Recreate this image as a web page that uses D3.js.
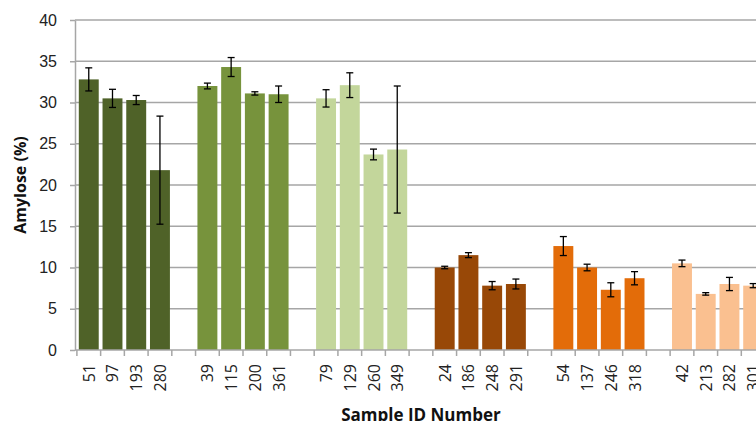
<!DOCTYPE html>
<html lang="en">
  <head>
    <meta charset="UTF-8" />
    <title>Amylose by sample</title>
    <script src="https://d3js.org/d3.v7.min.js"></script>
    <style>
      body { margin: 0; background: #fff; }
      svg { display: block; font-family: "Open Sans", "Noto Sans", sans-serif; }
      .grid line { stroke: #a6a6a6; stroke-width: 1.5px; }
      .axis path, .axis line { stroke: #a6a6a6; stroke-width: 1.5px; }
      .axis text { fill: #222; font-size: 16px; }
      .title { font-weight: bold; font-size: 16px; fill: #111; }
    </style>
  </head>
  <body>
    <svg width="756" height="421"></svg>
    <script>
      // Sample IDs, four per group
      const sampleIds = [
        "51", "97", "193", "280",
        "39", "115", "200", "361",
        "79", "129", "260", "349",
        "24", "186", "248", "291",
        "54", "137", "246", "318",
        "42", "213", "282", "301"
      ];
      const amylose = [
        32.8, 30.5, 30.3, 21.8,
        32.0, 34.3, 31.1, 31.0,
        30.5, 32.1, 23.7, 24.3,
        10.0, 11.5, 7.8, 8.0,
        12.6, 10.0, 7.3, 8.7,
        10.5, 6.8, 8.0, 7.8
      ];
      const errors = [
        1.4, 1.1, 0.55, 6.55,
        0.35, 1.15, 0.2, 1.0,
        1.05, 1.5, 0.65, 7.7,
        0.15, 0.3, 0.5, 0.6,
        1.15, 0.4, 0.85, 0.8,
        0.4, 0.15, 0.8, 0.25
      ];
      const groupColors = ["#4f6228", "#77933c", "#c3d69b", "#984807", "#e36c09", "#fac090"];
      const yTicks = [0, 5, 10, 15, 20, 25, 30, 35, 40];

      // build slot list: 4 bars then an empty slot between groups
      const slots = [];
      const rows = [];
      sampleIds.forEach((id, i) => {
        const g = Math.floor(i / 4);
        if (i > 0 && i % 4 === 0) slots.push("gap" + g);
        slots.push(id);
        rows.push({ id: id, value: amylose[i], err: errors[i], color: groupColors[g] });
      });

      const svg = d3.select("svg");
      const plotLeft = 75, plotTop = 20, plotBottom = 350;
      const step = 23.86;

      const x = d3.scaleBand()
        .domain(slots)
        .range([plotLeft, plotLeft + slots.length * step])
        .padding(0.16);

      const y = d3.scaleLinear().domain([0, 40]).range([plotBottom, plotTop]);

      // gridlines
      svg.append("g")
        .attr("class", "grid")
        .selectAll("line")
        .data(yTicks.slice(1))
        .enter()
        .append("line")
        .attr("x1", plotLeft)
        .attr("x2", 756)
        .attr("y1", (d) => y(d))
        .attr("y2", (d) => y(d));

      // bars
      svg.append("g")
        .selectAll("rect")
        .data(rows)
        .enter()
        .append("rect")
        .attr("x", (d) => x(d.id))
        .attr("y", (d) => y(d.value))
        .attr("width", x.bandwidth())
        .attr("height", (d) => y(0) - y(d.value))
        .attr("fill", (d) => d.color);

      // error bars
      const eb = svg.append("g")
        .attr("stroke", "#000")
        .attr("stroke-width", 1.3)
        .selectAll("g")
        .data(rows)
        .enter()
        .append("g")
        .attr("transform", (d) => `translate(${x(d.id) + x.bandwidth() / 2},0)`);
      eb.append("line")
        .attr("y1", (d) => y(d.value + d.err))
        .attr("y2", (d) => y(d.value - d.err));
      eb.append("line")
        .attr("x1", -3.5).attr("x2", 3.5)
        .attr("y1", (d) => y(d.value + d.err))
        .attr("y2", (d) => y(d.value + d.err));
      eb.append("line")
        .attr("x1", -3.5).attr("x2", 3.5)
        .attr("y1", (d) => y(d.value - d.err))
        .attr("y2", (d) => y(d.value - d.err));

      // y axis
      svg.append("g")
        .attr("class", "axis")
        .attr("transform", `translate(${plotLeft},0)`)
        .call(d3.axisLeft(y).tickValues(yTicks).tickSize(5).tickSizeOuter(0).tickPadding(13));

      // x axis: ticks at slot boundaries
      const xAxis = svg.append("g")
        .attr("class", "axis")
        .attr("transform", `translate(0,${plotBottom})`);
      xAxis.append("line")
        .attr("x1", plotLeft)
        .attr("x2", 756);
      xAxis.selectAll(".tk")
        .data(slots)
        .enter()
        .append("line")
        .attr("class", "tk")
        .attr("x1", (d) => x(d) - x.step() * x.paddingInner() / 2)
        .attr("x2", (d) => x(d) - x.step() * x.paddingInner() / 2)
        .attr("y1", 0)
        .attr("y2", 6);
      xAxis.selectAll("text")
        .data(sampleIds)
        .enter()
        .append("text")
        .attr("transform", (d) => `translate(${x(d) + x.bandwidth() / 2 + 6},14) rotate(-90)`)
        .attr("text-anchor", "end")
        .text((d) => d);

      // titles
      svg.append("text")
        .attr("class", "title")
        .attr("transform", `translate(26,${(plotTop + plotBottom) / 2}) rotate(-90)`)
        .attr("text-anchor", "middle")
        .text("Amylose (%)");

      svg.append("text")
        .attr("class", "title")
        .attr("x", plotLeft + (slots.length * step) / 2)
        .attr("y", 420.5)
        .attr("text-anchor", "middle")
        .style("font-size", "17px")
        .text("Sample ID Number");
    </script>
  </body>
</html>
